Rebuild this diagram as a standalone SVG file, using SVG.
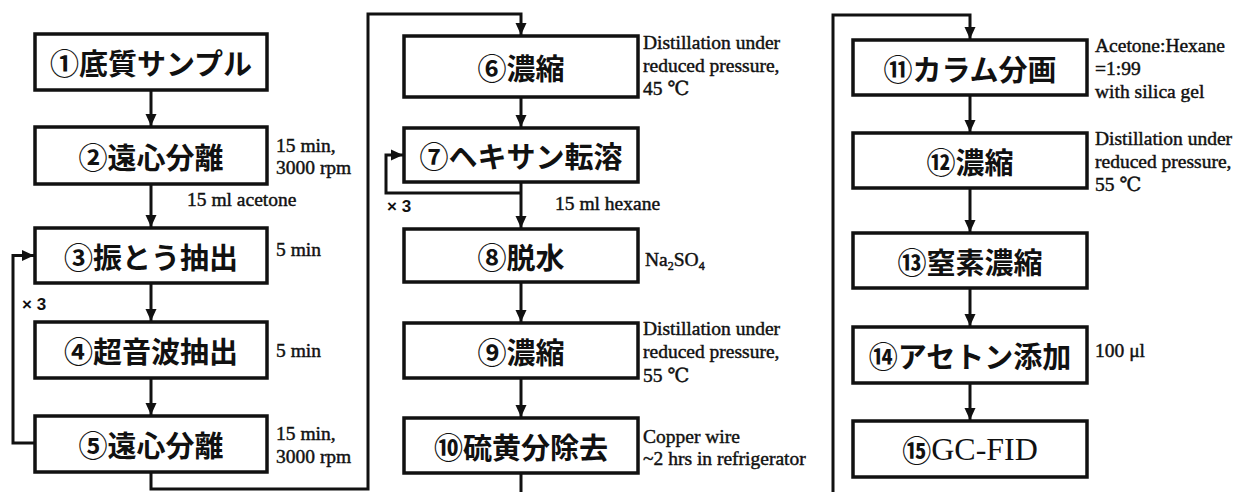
<svg xmlns="http://www.w3.org/2000/svg" width="1245" height="492" viewBox="0 0 1245 492">
<defs>
<marker id="ah" viewBox="0 0 12 12" markerWidth="12" markerHeight="12" refX="12" refY="6" orient="auto" markerUnits="userSpaceOnUse">
<path d="M0,0.5 L12,6 L0,11.5 z" fill="#111"/>
</marker>
<style>
.box{fill:#fff;stroke:#111;stroke-width:3.5}
.lbl{font-family:"Noto Sans CJK JP","Noto Sans",sans-serif;font-weight:bold;font-size:29px;fill:#111;text-anchor:middle;dominant-baseline:central}
.gc{font-family:"Liberation Serif",serif;font-weight:normal;font-size:32px}
.note{font-family:"Liberation Serif","DejaVu Serif",serif;font-size:19.5px;fill:#111;stroke:#111;stroke-width:0.45}
.x3{font-family:"Liberation Sans",sans-serif;font-size:17px;font-weight:bold;fill:#111}
.con{fill:none;stroke:#111;stroke-width:3}
.arr{fill:none;stroke:#111;stroke-width:3;marker-end:url(#ah)}
</style>
</defs>
<rect width="1245" height="492" fill="#fff"/>
<g id="connectors">
<line class="arr" x1="151" y1="90" x2="151" y2="126"/>
<line class="arr" x1="151" y1="184" x2="151" y2="227"/>
<line class="arr" x1="151" y1="283" x2="151" y2="321"/>
<line class="arr" x1="151" y1="378" x2="151" y2="415"/>
<polyline class="arr" points="35,443 13,443 13,255.5 34,255.5"/>
<polyline class="arr" points="151,472 151,489 368,489 368,14 521,14 521,35"/>
<line class="arr" x1="521" y1="97" x2="521" y2="127"/>
<line class="arr" x1="521" y1="182" x2="521" y2="228"/>
<polyline class="arr" points="521,193 386,193 386,155 403,155"/>
<line class="arr" x1="521" y1="282" x2="521" y2="322"/>
<line class="arr" x1="521" y1="378" x2="521" y2="417"/>
<line class="con" x1="521" y1="473" x2="521" y2="492"/>
<polyline class="arr" points="833,492 833,15 970,15 970,39"/>
<line class="arr" x1="970" y1="95" x2="970" y2="132"/>
<line class="arr" x1="970" y1="188" x2="970" y2="232"/>
<line class="arr" x1="970" y1="288" x2="970" y2="326"/>
<line class="arr" x1="970" y1="383" x2="970" y2="420"/>
</g>
<g id="n1"><rect class="box" x="35" y="34" width="232" height="56"/><text class="lbl" x="151" y="62">①底質サンプル</text></g>
<g id="n2"><rect class="box" x="35" y="127" width="232" height="57"/><text class="lbl" x="151" y="155.5">②遠心分離</text>
<text class="note" x="276" y="152">15 min,</text><text class="note" x="276" y="174">3000 rpm</text>
<text class="note" x="187" y="206">15 ml acetone</text></g>
<g id="n3"><rect class="box" x="35" y="228" width="232" height="55"/><text class="lbl" x="151" y="255.5">③振とう抽出</text>
<text class="note" x="276" y="256">5 min</text>
<text class="x3" x="22" y="310">× 3</text></g>
<g id="n4"><rect class="box" x="35" y="322" width="232" height="56"/><text class="lbl" x="151" y="350">④超音波抽出</text>
<text class="note" x="276" y="357">5 min</text></g>
<g id="n5"><rect class="box" x="35" y="416" width="232" height="56"/><text class="lbl" x="151" y="444">⑤遠心分離</text>
<text class="note" x="276" y="440">15 min,</text><text class="note" x="276" y="463">3000 rpm</text></g>
<g id="n6"><rect class="box" x="404" y="36" width="234" height="61"/><text class="lbl" x="521" y="66.5">⑥濃縮</text>
<text class="note" x="643" y="49">Distillation under</text><text class="note" x="643" y="72">reduced pressure,</text><text class="note" x="643" y="95">45 ℃</text></g>
<g id="n7"><rect class="box" x="404" y="128" width="234" height="54"/><text class="lbl" x="521" y="155">⑦ヘキサン転溶</text>
<text class="x3" x="387" y="212">× 3</text>
<text class="note" x="555" y="210">15 ml hexane</text></g>
<g id="n8"><rect class="box" x="404" y="229" width="234" height="53"/><text class="lbl" x="521" y="255.5">⑧脱水</text>
<text class="note" x="645" y="266">Na<tspan font-size="12" dy="4">2</tspan><tspan dy="-4">SO</tspan><tspan font-size="12" dy="4">4</tspan></text></g>
<g id="n9"><rect class="box" x="404" y="323" width="234" height="55"/><text class="lbl" x="521" y="350.5">⑨濃縮</text>
<text class="note" x="643" y="335">Distillation under</text><text class="note" x="643" y="358">reduced pressure,</text><text class="note" x="643" y="382">55 ℃</text></g>
<g id="n10"><rect class="box" x="404" y="418" width="234" height="55"/><text class="lbl" x="521" y="445.5">⑩硫黄分除去</text>
<text class="note" x="643" y="443">Copper wire</text><text class="note" x="643" y="465">~2 hrs in refrigerator</text></g>
<g id="n11"><rect class="box" x="853" y="40" width="234" height="55"/><text class="lbl" x="970" y="67.5">⑪カラム分画</text>
<text class="note" x="1095" y="52">Acetone:Hexane</text><text class="note" x="1095" y="75">=1:99</text><text class="note" x="1095" y="98">with silica gel</text></g>
<g id="n12"><rect class="box" x="853" y="133" width="234" height="55"/><text class="lbl" x="970" y="160.5">⑫濃縮</text>
<text class="note" x="1095" y="145">Distillation under</text><text class="note" x="1095" y="168">reduced pressure,</text><text class="note" x="1095" y="191">55 ℃</text></g>
<g id="n13"><rect class="box" x="853" y="233" width="234" height="55"/><text class="lbl" x="970" y="260.5">⑬窒素濃縮</text></g>
<g id="n14"><rect class="box" x="853" y="327" width="234" height="56"/><text class="lbl" x="970" y="355">⑭アセトン添加</text>
<text class="note" x="1095" y="357">100 μl</text></g>
<g id="n15"><rect class="box" x="853" y="421" width="234" height="56"/><text class="lbl" x="970" y="449">⑮<tspan class="gc">GC-FID</tspan></text></g>
</svg>
